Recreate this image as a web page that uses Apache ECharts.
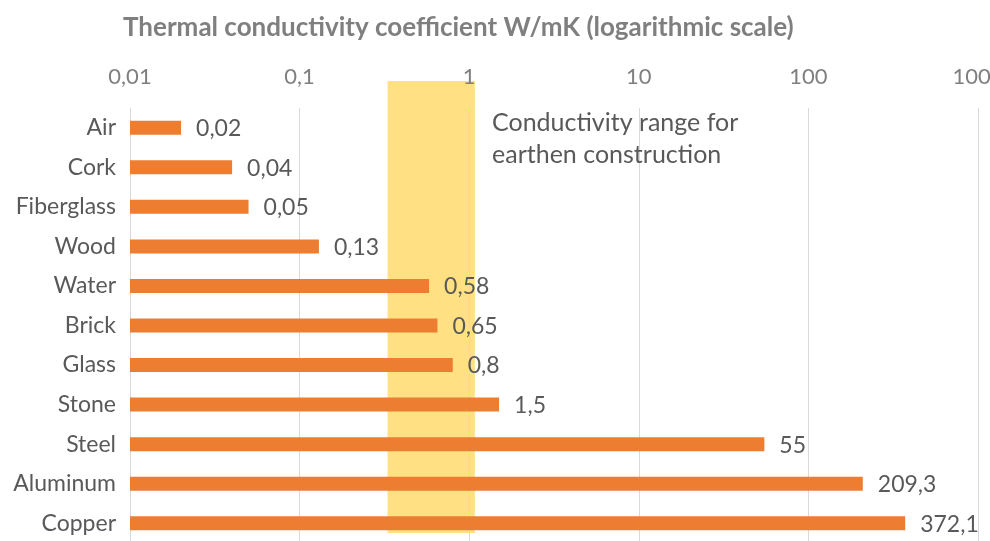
<!DOCTYPE html>
<html lang="en">
<head>
  <meta charset="UTF-8">
  <title>Thermal conductivity</title>
  <script src="https://cdn.jsdelivr.net/npm/echarts@6/dist/echarts.min.js"></script>
  <style>
    html, body { margin: 0; padding: 0; background: #fff; }
  </style>
</head>
<body>
  <div id="chart" style="width:990px;height:541px;"></div>
  <script>
    // materials, top to bottom
    var materials = ['Air', 'Cork', 'Fiberglass', 'Wood', 'Water', 'Brick', 'Glass', 'Stone', 'Steel', 'Aluminum', 'Copper'];
    var conductivity = [0.02, 0.04, 0.05, 0.13, 0.58, 0.65, 0.8, 1.5, 55, 209.3, 372.1];
    // range for earthen construction (yellow band)
    var earthRange = [0.33, 1.08];
    var axisMin = 0.01;

    var font = 'Lato, "Open Sans", sans-serif';
    var chart = echarts.init(document.getElementById('chart'));

    function comma(v) {
      return String(v).replace('.', ',');
    }

    // bars on a log axis start at 1 by default, so draw them from axisMin
    function renderBar(params, api) {
      var idx = api.value(0);
      var val = api.value(1);
      var start = api.coord([axisMin, idx]);
      var end = api.coord([val, idx]);
      var h = 14;
      return {
        type: 'group',
        children: [
          {
            type: 'rect',
            shape: { x: start[0], y: start[1] - h / 2, width: end[0] - start[0], height: h },
            style: { fill: '#ed7d31' }
          },
          {
            type: 'text',
            x: end[0] + 15,
            y: end[1] + 1,
            style: {
              text: comma(val),
              fontFamily: font, fontSize: 23, fill: '#595959',
              verticalAlign: 'middle', align: 'left'
            }
          }
        ]
      };
    }

    var barData = conductivity.map(function (v, i) { return [i, v]; });

    chart.setOption({
      animation: false,
      title: {
        text: 'Thermal conductivity coefficient W/mK (logarithmic scale)',
        left: 118,
        top: 10,
        textStyle: { fontFamily: font, fontSize: 26, fontWeight: 'bold', color: '#7f7f7f' }
      },
      grid: { left: 130, right: 12, top: 108, bottom: -2, containLabel: false, outerBoundsMode: 'none' },
      xAxis: {
        type: 'log',
        logBase: 10,
        min: axisMin,
        max: 1000,
        position: 'top',
        axisLine: { show: false },
        axisTick: { show: false },
        axisLabel: {
          fontFamily: font, fontSize: 22, color: '#7f7f7f', margin: 20,
          formatter: function (v) { return comma(v); }
        },
        splitLine: { show: true, lineStyle: { color: '#d9d9d9', width: 1 } }
      },
      yAxis: {
        type: 'category',
        inverse: true,
        data: materials,
        axisLine: { show: true, lineStyle: { color: '#d9d9d9', width: 1 } },
        axisTick: { show: false },
        axisLabel: { fontFamily: font, fontSize: 23, color: '#595959', margin: 14 }
      },
      series: [{
        type: 'custom',
        renderItem: renderBar,
        encode: { y: 0, x: 1 },
        data: barData,
        clip: false,
        z: 3
      }]
    });

    // yellow band and its caption, placed from the x axis scale
    var x0 = chart.convertToPixel({ xAxisIndex: 0 }, earthRange[0]);
    var x1 = chart.convertToPixel({ xAxisIndex: 0 }, earthRange[1]);
    chart.setOption({
      graphic: [
        {
          type: 'rect',
          z: -1,
          shape: { x: x0, y: 81, width: x1 - x0, height: 452 },
          style: { fill: '#ffe083' }
        },
        {
          type: 'text',
          z: 5,
          left: 492,
          top: 107,
          style: {
            text: 'Conductivity range for\nearthen construction',
            fontFamily: font, fontSize: 25, lineHeight: 32, fill: '#595959'
          }
        }
      ]
    });
  </script>
</body>
</html>
